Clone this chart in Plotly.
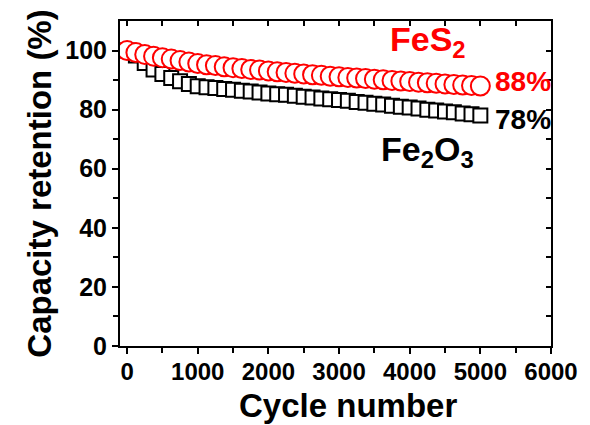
import plotly.graph_objects as go

cycles = [i * 125 for i in range(41)]

fes2 = [100.0, 99.3, 98.7, 98.1, 97.6, 97.1, 96.6, 96.1, 95.6, 95.2, 94.9,
        94.5, 94.2, 93.9, 93.6, 93.4, 93.1, 92.8, 92.6, 92.3, 92.1, 91.8,
        91.6, 91.3, 91.1, 90.9, 90.7, 90.5, 90.3, 90.1, 89.9, 89.7, 89.5,
        89.3, 89.1, 88.9, 88.7, 88.5, 88.3, 88.2, 88.0]

fe2o3 = [100.0, 98.3, 95.8, 93.6, 92.1, 90.7, 89.6, 88.7, 87.9, 87.6, 87.3,
         87.0, 86.7, 86.4, 86.1, 85.8, 85.5, 85.2, 85.0, 84.7, 84.4, 84.1,
         83.8, 83.5, 83.3, 83.0, 82.6, 82.3, 82.0, 81.7, 81.3, 81.0, 80.7,
         80.4, 80.0, 79.7, 79.4, 79.1, 78.7, 78.4, 78.0]

x_ticks = [0, 1000, 2000, 3000, 4000, 5000, 6000]
y_ticks = [0, 20, 40, 60, 80, 100]

FONT = "Liberation Sans, Arial, sans-serif"

fig = go.Figure()
fig.add_trace(go.Scatter(
    x=cycles, y=fe2o3, mode="markers", name="Fe2O3",
    marker=dict(symbol="square", size=14, color="white",
                line=dict(color="black", width=2)),
    showlegend=False))
fig.add_trace(go.Scatter(
    x=cycles, y=fes2, mode="markers", name="FeS2",
    marker=dict(symbol="circle", size=19, color="white",
                line=dict(color="red", width=2)),
    showlegend=False))

axis_common = dict(showgrid=False, zeroline=False, showline=True,
                   linecolor="black", linewidth=2, tickcolor="black",
                   tickwidth=2, ticklen=6)

fig.update_layout(
    width=590, height=425,
    margin=dict(l=120, r=33, t=21, b=79),
    paper_bgcolor="white", plot_bgcolor="white",
    font=dict(family=FONT, color="black"),
    xaxis=dict(range=[-100, 6000], tickvals=x_ticks,
               ticktext=[f"<b>{v}</b>" for v in x_ticks], ticks="outside",
               tickfont=dict(size=24, family=FONT), ticklabelstandoff=-3,
               minor=dict(tickvals=[500, 1500, 2500, 3500, 4500, 5500],
                          ticks="outside", ticklen=5, tickwidth=2, tickcolor="black"),
               **axis_common),
    yaxis=dict(range=[0, 110], tickvals=y_ticks,
               ticktext=[f"<b>{v}</b>" for v in y_ticks], ticks="outside",
               tickfont=dict(size=25, family=FONT),
               minor=dict(tickvals=[10, 30, 50, 70, 90],
                          ticks="outside", ticklen=5, tickwidth=2, tickcolor="black"),
               title=dict(text="<b>Capacity retention (%)</b>", font=dict(size=33, family=FONT), standoff=4),
               **axis_common),
    xaxis2=dict(range=[-100, 6000], overlaying="x", side="top", anchor="y",
                dtick=500, tick0=0, ticks="inside", showticklabels=False,
                showgrid=False, zeroline=False, showline=True, linecolor="black",
                linewidth=2, tickcolor="black", tickwidth=2, ticklen=5),
    yaxis2=dict(range=[0, 110], overlaying="y", side="right", anchor="x",
                dtick=10, tick0=0, ticks="inside", showticklabels=False,
                showgrid=False, zeroline=False, showline=True, linecolor="black",
                linewidth=2, tickcolor="black", tickwidth=2, ticklen=5),
)

fig.add_trace(go.Scatter(x=[], y=[], xaxis="x2", yaxis="y2", showlegend=False))

# x-axis title (slightly right of centre, as in the reference)
fig.add_annotation(xref="paper", yref="paper", x=0.53, y=-0.182,
                   text="<b>Cycle number</b>", showarrow=False,
                   font=dict(size=33, family=FONT, color="black"),
                   xanchor="center", yanchor="middle")

annotations = [
    dict(x=4254, y=103, text="<b>FeS<sub>2</sub></b>", font=dict(size=34, color="red", family=FONT),
         xanchor="center", yanchor="middle"),
    dict(x=5180, y=89.5, text="<b>88%</b>", font=dict(size=28, color="red", family=FONT),
         xanchor="left", yanchor="middle"),
    dict(x=5180, y=76.5, text="<b>78%</b>", font=dict(size=28, color="black", family=FONT),
         xanchor="left", yanchor="middle"),
    dict(x=4254, y=66, text="<b>Fe<sub>2</sub>O<sub>3</sub></b>", font=dict(size=34, color="black", family=FONT),
         xanchor="center", yanchor="middle"),
]
for a in annotations:
    fig.add_annotation(xref="x", yref="y", showarrow=False, **a)

fig.write_html("out.html")
